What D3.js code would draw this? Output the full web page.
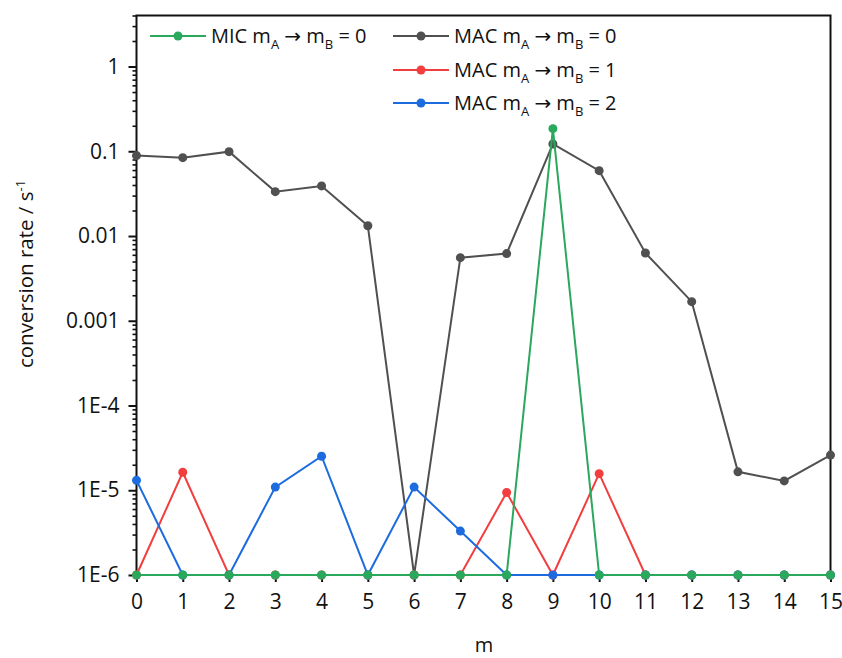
<!DOCTYPE html>
<html>
<head>
<meta charset="utf-8">
<script src="https://cdn.jsdelivr.net/npm/d3@7/dist/d3.min.js"></script>
<style>
html,body{margin:0;padding:0;background:#fff;}
svg text{font-family:"Open Sans","Noto Sans",sans-serif;fill:#111;}
</style>
</head>
<body>
<svg id="chart" width="842" height="658"></svg>
<script>
const mValues = [0,1,2,3,4,5,6,7,8,9,10,11,12,13,14,15];
const micB0 = [1e-6,1e-6,1e-6,1e-6,1e-6,1e-6,1e-6,1e-6,1e-6,0.185,1e-6,1e-6,1e-6,1e-6,1e-6,1e-6];
const macB0 = [0.089,0.084,0.099,0.0334,0.039,0.0132,1e-6,0.00555,0.0062,0.122,0.059,0.0063,0.00168,1.65e-5,1.29e-5,2.6e-5];
const macB1 = [1e-6,1.63e-5,1e-6,1e-6,1e-6,1e-6,1e-6,1e-6,9.4e-6,1e-6,1.57e-5,1e-6,1e-6,1e-6,1e-6,1e-6];
const macB2 = [1.31e-5,1e-6,1e-6,1.09e-5,2.52e-5,1e-6,1.09e-5,3.3e-6,1e-6,1e-6,1e-6,1e-6,1e-6,1e-6,1e-6,1e-6];
const yTickValues = [1e-6,1e-5,1e-4,1e-3,1e-2,1e-1,1];
const yTickLabels = ["1E-6","1E-5","1E-4","0.001","0.01","0.1","1"];
const seriesNames = ["MAC","MAC","MAC","MIC"];
const seriesTargets = ["0","1","2","0"];

const colors = {grey:"#505050", red:"#f23e3e", blue:"#1c6ce0", green:"#2aa85c"};

const svg = d3.select("#chart");
const L = 136.5, R = 830.5, T = 15.5, B = 575;
const x = d3.scaleLinear().domain([0,15]).range([L,R]);
const y = d3.scaleLog().domain([1e-6,4]).range([B,T]);

// frame
svg.append("rect").attr("x",L).attr("y",T).attr("width",R-L).attr("height",B-T)
  .attr("fill","none").attr("stroke","#111").attr("stroke-width",2);

// y axis
const minor = [];
for (let e=-6; e<=0; e++) for (let k=2;k<=9;k++){ const v=k*Math.pow(10,e); if (v<=4) minor.push(v); }
const yMinor = d3.axisLeft(y).tickValues(minor).tickSize(4).tickFormat("");
svg.append("g").attr("transform",`translate(${L},0)`).call(yMinor)
  .call(g=>g.select(".domain").remove())
  .call(g=>g.selectAll("line").attr("stroke","#111").attr("stroke-width",1.6));
const yAxis = d3.axisLeft(y).tickValues(yTickValues).tickSize(8).tickPadding(9)
  .tickFormat((d,i)=>yTickLabels[i]);
svg.append("g").attr("transform",`translate(${L},0)`).call(yAxis)
  .call(g=>g.select(".domain").remove())
  .call(g=>g.selectAll("line").attr("stroke","#111").attr("stroke-width",2))
  .call(g=>g.selectAll("text").attr("font-size",21).style("font-size","21px").attr("fill","#111"));

// x axis
const xAxis = d3.axisBottom(x).tickValues(mValues).tickSize(7).tickPadding(12).tickFormat(d3.format("d"));
svg.append("g").attr("transform",`translate(0,${B})`).call(xAxis)
  .call(g=>g.select(".domain").remove())
  .call(g=>g.selectAll("line").attr("stroke","#111").attr("stroke-width",2))
  .call(g=>g.selectAll("text").attr("font-size",21).style("font-size","21px").attr("fill","#111"));

// axis titles
svg.append("text").attr("x",484).attr("y",652).attr("text-anchor","middle").style("font-size","20px").text("m");
const yt = svg.append("text").attr("transform","translate(33,274) rotate(-90)").attr("text-anchor","middle").style("font-size","20.5px");
yt.append("tspan").text("conversion rate / s");
yt.append("tspan").attr("dy",-8).style("font-size","13px").text("-1");

// series
const series = [
  {vals:macB0, color:colors.grey},
  {vals:macB1, color:colors.red},
  {vals:macB2, color:colors.blue},
  {vals:micB0, color:colors.green}
];
const line = d3.line().x((d,i)=>x(mValues[i])).y(d=>y(d));
series.forEach(s=>{
  svg.append("path").datum(s.vals).attr("d",line).attr("fill","none")
    .attr("stroke",s.color).attr("stroke-width",2);
  svg.append("g").selectAll("circle").data(s.vals).join("circle")
    .attr("cx",(d,i)=>x(mValues[i])).attr("cy",d=>y(d)).attr("r",4.5).attr("fill",s.color);
});

// legend
const legendItems = [
  {name:seriesNames[3], target:seriesTargets[3], color:colors.green, lx:150, ly:36},
  {name:seriesNames[0], target:seriesTargets[0], color:colors.grey, lx:393, ly:36},
  {name:seriesNames[1], target:seriesTargets[1], color:colors.red, lx:393, ly:70},
  {name:seriesNames[2], target:seriesTargets[2], color:colors.blue, lx:393, ly:103}
];
legendItems.forEach(it=>{
  const g = svg.append("g");
  g.append("line").attr("x1",it.lx).attr("x2",it.lx+56).attr("y1",it.ly).attr("y2",it.ly)
    .attr("stroke",it.color).attr("stroke-width",2);
  g.append("circle").attr("cx",it.lx+28).attr("cy",it.ly).attr("r",4.5).attr("fill",it.color);
  const t = g.append("text").attr("x",it.lx+61).attr("y",it.ly+7).style("font-size","20px");
  t.append("tspan").text(it.name+" m");
  t.append("tspan").attr("dy",6).style("font-size","13px").text("A");
  t.append("tspan").attr("dy",-6).text(" ");
  t.append("tspan").style("font-family","'DejaVu Sans'").style("font-size","20px").text("\u2192");
  t.append("tspan").text(" m");
  t.append("tspan").attr("dy",6).style("font-size","13px").text("B");
  t.append("tspan").attr("dy",-6).text(" = "+it.target);
});
</script>
</body>
</html>
